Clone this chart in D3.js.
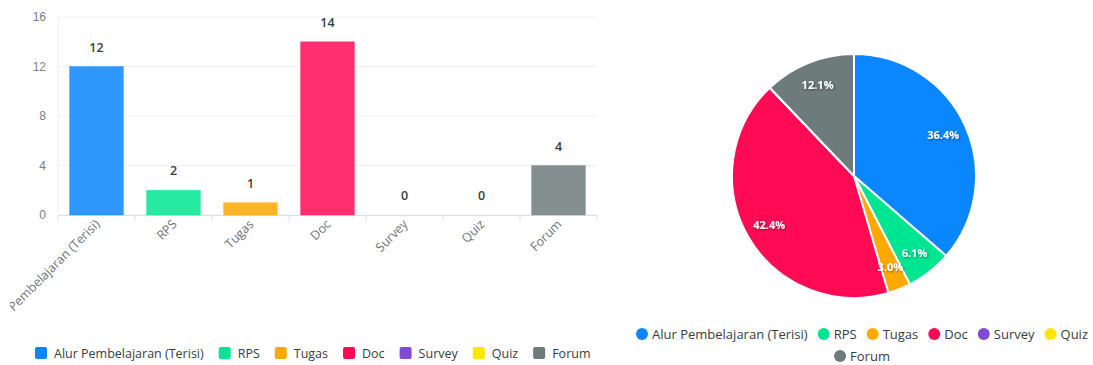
<!DOCTYPE html>
<html><head><meta charset="utf-8">
<script src="https://cdn.jsdelivr.net/npm/d3@7"></script>
<style>
body{margin:0;background:#fff;}
svg{display:block;font-family:"Open Sans","Liberation Sans",Arial,sans-serif;}
</style></head>
<body>
<svg id="c" width="1093" height="365"></svg>
<script>
const categories = ["Alur Pembelajaran (Terisi)","RPS","Tugas","Doc","Survey","Quiz","Forum"];
const values = [12,2,1,14,0,0,4];
const yTicks = [0,4,8,12,16];
const colors = ["#0a86ff","#00e592","#ffa800","#ff0a54","#7d4bd8","#ffe600","#6e7b7b"];

const svg = d3.select("#c");
const defs = svg.append("defs");
defs.append("clipPath").attr("id","lblclip").append("rect")
  .attr("x",10).attr("y",0).attr("width",600).attr("height",340);

// ---- Bar chart ----
const x = d3.scaleBand().domain(categories).range([58,597]).paddingInner(0.3).paddingOuter(0.15);
const y = d3.scaleLinear().domain([0,16]).range([215,17]);

const g = svg.append("g");
g.selectAll("line.grid").data(yTicks).join("line")
  .attr("x1",58).attr("x2",597).attr("y1",d=>y(d)).attr("y2",d=>y(d))
  .attr("stroke","#f0f2f2").attr("stroke-width",1);
g.append("line").attr("x1",58).attr("x2",58).attr("y1",17).attr("y2",215).attr("stroke","#eceeee");

const yAxis = g.append("g").attr("transform","translate(58,0)")
  .call(d3.axisLeft(y).tickValues(yTicks).tickSize(0).tickPadding(12));
yAxis.select(".domain").remove();
yAxis.selectAll("text").attr("fill","#7a7f82").attr("font-size",12);

const band = d3.scaleBand().domain(categories).range([58,597]);
g.append("line").attr("x1",58).attr("x2",597).attr("y1",215.5).attr("y2",215.5).attr("stroke","#e0e0e0");
g.selectAll("line.tk").data(d3.range(categories.length+1)).join("line")
  .attr("x1",i=>58+i*band.step()).attr("x2",i=>58+i*band.step())
  .attr("y1",215).attr("y2",221).attr("stroke","#e0e0e0");

g.selectAll("rect.bar").data(values).join("rect")
  .attr("x",(d,i)=>x(categories[i])).attr("width",x.bandwidth())
  .attr("y",d=>y(d)).attr("height",d=>y(0)-y(d))
  .attr("fill",(d,i)=>colors[i]).attr("fill-opacity",0.85)
  .attr("stroke",(d,i)=>colors[i]).attr("stroke-opacity",0.3);

g.selectAll("text.val").data(values).join("text")
  .attr("x",(d,i)=>band(categories[i])+band.bandwidth()/2)
  .attr("y",d=>y(d)-15)
  .attr("text-anchor","middle").attr("font-size",12.5).attr("font-weight","600")
  .attr("fill","#373d3f").text(d=>d);

g.append("g").attr("clip-path","url(#lblclip)")
  .selectAll("text.xl").data(categories).join("text")
  .attr("transform",d=>`translate(${band(d)+band.bandwidth()/2+4},${225}) rotate(-45)`)
  .attr("text-anchor","end").attr("font-size",12.5).attr("fill","#6f7579").text(d=>d);

// bar legend
const lg = svg.append("g");
let lx = 35;
categories.forEach((c,i)=>{
  lg.append("rect").attr("x",lx).attr("y",347).attr("width",12).attr("height",12).attr("rx",2).attr("fill",colors[i]);
  const t = lg.append("text").attr("x",lx+19).attr("y",358).attr("font-size",12.5).attr("fill","#373d3f").text(c);
  lx += 19 + t.node().getComputedTextLength() + 15;
});

// ---- Pie ----
const cx = 854, cy = 176, r = 122;
const pie = d3.pie().sort(null).value(d=>d)(values);
const arc = d3.arc().innerRadius(0).outerRadius(r);
const la = d3.arc().innerRadius(98).outerRadius(98);
const total = d3.sum(values);
const pg = svg.append("g").attr("transform",`translate(${cx},${cy})`);
pg.selectAll("path").data(pie).join("path")
  .attr("d",arc).attr("fill",(d,i)=>colors[i]).attr("stroke","#fff").attr("stroke-width",2);
const f = defs.append("filter").attr("id","sh").attr("x","-20%").attr("y","-20%").attr("width","140%").attr("height","140%");
f.append("feDropShadow").attr("dx",1).attr("dy",1).attr("stdDeviation",1).attr("flood-color","#000").attr("flood-opacity",0.45);
pg.selectAll("text").data(pie.filter(d=>d.value>0)).join("text")
  .attr("transform",d=>`translate(${la.centroid(d)})`)
  .attr("text-anchor","middle").attr("dy","0.35em")
  .attr("font-size",11).attr("font-weight","bold").attr("fill","#fff").attr("filter","url(#sh)")
  .text(d=>(d.value/total*100).toFixed(1)+"%");

// pie legend
const pl = svg.append("g");
const items = categories.map((c,i)=>{
  const t = pl.append("text").attr("font-size",13).attr("fill","#373d3f").text(c);
  return {t, w: 16 + t.node().getComputedTextLength() + 10, i};
});
const rows = [items.slice(0,6), items.slice(6)];
rows.forEach((row,ri)=>{
  const tw = d3.sum(row,d=>d.w)-10;
  let px = 862 - tw/2;
  const py = 334 + ri*22;
  row.forEach(it=>{
    pl.append("circle").attr("cx",px+6).attr("cy",py).attr("r",6).attr("fill",colors[it.i]);
    it.t.attr("x",px+16).attr("y",py+4.5);
    px += it.w;
  });
});
</script>
</body></html>
